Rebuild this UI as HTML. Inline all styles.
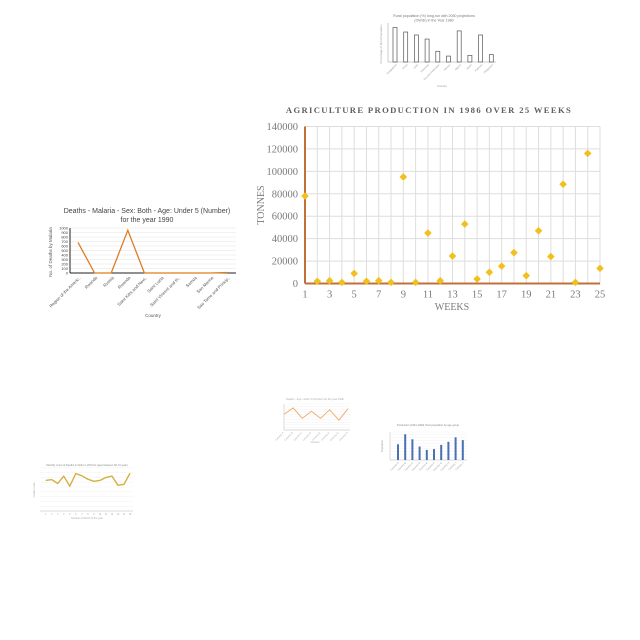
<!DOCTYPE html>
<html><head><meta charset="utf-8"><style>
body{margin:0;background:#fff;}
svg{display:block;}
text{font-family:"Liberation Sans",sans-serif;}
.serif{font-family:"Liberation Serif",serif;}
</style></head><body>
<svg id="s" width="640" height="640" viewBox="0 0 640 640">
<g id="main"></g>
<g id="malaria"></g>
<g id="rural"></g>
<g id="orange"></g>
<g id="blue"></g>
<g id="gold"></g>
</svg>
<script>
// Main chart data
const weeks = [1,2,3,4,5,6,7,8,9,10,11,12,13,14,15,16,17,18,19,20,21,22,23,24,25];
const tonnes = [78000,2000,2500,1000,9000,2000,2500,1000,95000,1000,45000,2500,24500,53000,4000,10000,15500,27500,7000,47000,24000,88500,1000,116000,13500];
const yTicks = [0,20000,40000,60000,80000,100000,120000,140000];
const xTickLabels = [1,3,5,7,9,11,13,15,17,19,21,23,25];
// Malaria chart data
const malariaCountries = ["Region of the Americas","Rwanda","Russia","Rwanda","Saint Kitts and Nevis","Saint Lucia","Saint Vincent and the ..","Samoa","San Marino","Sao Tome and Principe"];
const malariaDeaths = [680,0,0,950,0,0,0,0,0,10];
const malariaTicks = [0,100,200,300,400,500,600,700,800,900,1000];
// Rural population chart data
const ruralCountries = ["Bangladesh","China","India","Indonesia","Russian Federation","Mexico","Nigeria","Japan","Pakistan","Philippines"];
const ruralValues = [93,81,73,62,29,16,84,18,73,20];
// Small orange line data
const orangeCats = ["A","B","C","D","E","F","G","H"];
const orangeValues = [60,85,45,72,45,78,38,82];
// Small blue bar data
const blueCats = ["A","B","C","D","E","F","G","H","I","J"];
const blueValues = [56,92,74,48,36,39,54,65,81,71];
// Gold line data
const goldCats = ["1","2","3","4","5","6","7","8","9","10","11","12","13","14","15"];
const goldValues = [71,73,64,81,58,87,82,74,69,71,78,81,60,62,88];

const NS="http://www.w3.org/2000/svg";
function mk(parent,tag,attrs,txt){const e=document.createElementNS(NS,tag);for(const k in attrs)e.setAttribute(k,attrs[k]);if(txt!==undefined)e.textContent=txt;parent.appendChild(e);return e;}

// ===== Main chart =====
(function(){
const g=document.getElementById('main');
const x0=305,x1=600,y0=283.5,y1=126.5;
const sx=w=>x0+(w-1)/(24)*(x1-x0);
const sy=v=>y0-v/140000*(y0-y1);
for(const t of yTicks){
 const l=mk(g,'line',{x1:x0,x2:x1,y1:sy(t),y2:sy(t),stroke:'#dedede','stroke-width':1});
 
 
 const tx=mk(g,'text',{x:x0-7,y:sy(t)+3.5,'text-anchor':'end','font-size':10.5,fill:'#7a7a7a',class:'serif'},t);
 
 
}
for(const w of weeks){
 const l=mk(g,'line',{x1:sx(w),x2:sx(w),y1:y1,y2:y0,stroke:'#dedede','stroke-width':1});
 
 
}
for(const w of xTickLabels){
 const tx=mk(g,'text',{x:sx(w),y:y0+14,'text-anchor':'middle','font-size':10.5,fill:'#7a7a7a',class:'serif'},w);
 
 
}
let a=mk(g,'line',{x1:x0,x2:x1,y1:y0,y2:y0,stroke:'#c0703a','stroke-width':2});

a=mk(g,'line',{x1:x0,x2:x0,y1:y1,y2:y0,stroke:'#c0703a','stroke-width':2});

weeks.forEach((w,i)=>{
 const cx=sx(w),cy=sy(tonnes[i]),r=3.8;
 const p=mk(g,'polygon',{points:`${cx},${cy-r} ${cx+r},${cy} ${cx},${cy+r} ${cx-r},${cy}`,fill:'#f2c01e'});
 
 
});
let t=mk(g,'text',{x:429,y:113,'text-anchor':'middle','font-size':8.6,'font-weight':'bold','letter-spacing':'1.35',fill:'#606060',class:'serif'},'AGRICULTURE PRODUCTION IN 1986 OVER 25 WEEKS');

t=mk(g,'text',{x:452,y:310,'text-anchor':'middle','font-size':10,fill:'#7a7a7a',class:'serif'},'WEEKS');

t=mk(g,'text',{x:264,y:205,'text-anchor':'middle','font-size':10,fill:'#7a7a7a',class:'serif',transform:'rotate(-90 264 205)'},'TONNES');

})();

// ===== Malaria chart =====
(function(){
const g=document.getElementById('malaria');
const x0=70,x1=236,y0=273,y1=228;
const sx=i=>78+i*16.6;
const sy=v=>y0-v/1000*(y0-y1);
for(const t of malariaTicks){
 const l=mk(g,'line',{x1:x0,x2:x1,y1:sy(t),y2:sy(t),stroke:'#e3e3e3','stroke-width':0.6});
 
 const tx=mk(g,'text',{x:x0-2,y:sy(t)+1.5,'text-anchor':'end','font-size':4,fill:'#444'},t);
 
}
let a=mk(g,'line',{x1:x0,x2:x1,y1:y0,y2:y0,stroke:'#222','stroke-width':1});

a=mk(g,'line',{x1:x0,x2:x0,y1:y1,y2:y0,stroke:'#222','stroke-width':1});

const pl=mk(g,'polyline',{points:malariaDeaths.map((v,i)=>sx(i)+','+sy(v)).join(' '),fill:'none',stroke:'#e07b22','stroke-width':1.3});

malariaCountries.forEach((c,i)=>{
 const tx=mk(g,'text',{x:sx(i)+3,y:y0+5,'text-anchor':'end','font-size':4.3,fill:'#555',transform:`rotate(-45 ${sx(i)+3} ${y0+5})`},c.length>20?c.slice(0,20)+'..':c);
 
});
let t=mk(g,'text',{x:147,y:213,'text-anchor':'middle','font-size':7,fill:'#444'},'Deaths - Malaria - Sex: Both - Age: Under 5 (Number)');

t=mk(g,'text',{x:147,y:222,'text-anchor':'middle','font-size':7,fill:'#444'},'for the year 1990');

t=mk(g,'text',{x:153,y:317,'text-anchor':'middle','font-size':4.5,fill:'#555'},'Country');

t=mk(g,'text',{x:52,y:252,'text-anchor':'middle','font-size':4.5,fill:'#555',transform:'rotate(-90 52 252)'},'No. of Deaths by Malaria');

})();

// ===== Rural population =====
(function(){
const g=document.getElementById('rural');
const x0=388,x1=496,y0=62,y1=25;
const sy=v=>y0-v/100*(y0-y1);
const sx=i=>395+i*10.7;
let a=mk(g,'line',{x1:x0,x2:x0,y1:y1-2,y2:y0,stroke:'#999','stroke-width':0.5});

a=mk(g,'line',{x1:x0,x2:x1,y1:y0,y2:y0,stroke:'#999','stroke-width':0.5});

ruralValues.forEach((v,i)=>{
 const r=mk(g,'rect',{x:sx(i)-2,y:sy(v),width:4,height:y0-sy(v),fill:'#fff',stroke:'#555','stroke-width':0.7});
 
 
 const tx=mk(g,'text',{x:sx(i)+2,y:y0+3,'text-anchor':'end','font-size':2.5,fill:'#999',transform:`rotate(-45 ${sx(i)+2} ${y0+3})`},ruralCountries[i]);
 
});
let t=mk(g,'text',{x:434,y:17,'text-anchor':'middle','font-size':3.6,fill:'#777'},'Rural population (%) long-run with 2050 projections');

t=mk(g,'text',{x:434,y:21.5,'text-anchor':'middle','font-size':3.6,fill:'#777'},'(OWID) in the Year 1980');

t=mk(g,'text',{x:442,y:87,'text-anchor':'middle','font-size':2.8,fill:'#999'},'Country');

t=mk(g,'text',{x:382,y:44,'text-anchor':'middle','font-size':2.8,fill:'#999',transform:'rotate(-90 382 44)'},'Percentage of Rural Population');

})();

// ===== Small orange line =====
(function(){
const g=document.getElementById('orange');
const x0=284,x1=350,y0=430,y1=404;
const sx=i=>x0+i*(x1-x0-2)/(orangeCats.length-1);
const sy=v=>y0-v/100*(y0-y1);
for(let k=0;k<=10;k++){const l=mk(g,'line',{x1:x0,x2:x1,y1:y0-k*2.6,y2:y0-k*2.6,stroke:'#eee','stroke-width':0.4});
 }
let a=mk(g,'line',{x1:x0,x2:x0,y1:y1,y2:y0,stroke:'#bbb','stroke-width':0.5});

a=mk(g,'line',{x1:x0,x2:x1,y1:y0,y2:y0,stroke:'#bbb','stroke-width':0.5});

const pl=mk(g,'polyline',{points:orangeValues.map((v,i)=>sx(i)+','+sy(v)).join(' '),fill:'none',stroke:'#f0a860','stroke-width':0.9});

orangeCats.forEach((c,i)=>{const tx=mk(g,'text',{x:sx(i),y:y0+3,'text-anchor':'end','font-size':2.5,fill:'#aaa',transform:`rotate(-45 ${sx(i)} ${y0+3})`},'Country '+c);
 });
let t=mk(g,'text',{x:315,y:400,'text-anchor':'middle','font-size':2.6,fill:'#aaa'},'Deaths - Age: Under 5 (Number) for the year 1990');

t=mk(g,'text',{x:315,y:443,'text-anchor':'middle','font-size':2.6,fill:'#aaa'},'Country');

})();

// ===== Small blue bar =====
(function(){
const g=document.getElementById('blue');
const x0=390,x1=467,y0=460,y1=432;
const sx=i=>398+i*7.2;
const sy=v=>y0-v/100*(y0-y1);
for(let k=0;k<=10;k++){const l=mk(g,'line',{x1:x0,x2:x1,y1:y0-k*2.8,y2:y0-k*2.8,stroke:'#eee','stroke-width':0.4});
 }
let a=mk(g,'line',{x1:x0,x2:x1,y1:y0,y2:y0,stroke:'#bbb','stroke-width':0.5});

a=mk(g,'line',{x1:x0,x2:x0,y1:y1,y2:y0,stroke:'#bbb','stroke-width':0.5});

blueValues.forEach((v,i)=>{
 const r=mk(g,'rect',{x:sx(i)-1,y:sy(v),width:2,height:y0-sy(v),fill:'#4a6fb5'});
 
 const tx=mk(g,'text',{x:sx(i)+1,y:y0+3,'text-anchor':'end','font-size':2.5,fill:'#999',transform:`rotate(-45 ${sx(i)+1} ${y0+3})`},'Country '+blueCats[i]);
 
});
let t=mk(g,'text',{x:428,y:426,'text-anchor':'middle','font-size':2.6,fill:'#888'},'Production (1961-1990) Total population by age group');

t=mk(g,'text',{x:383,y:446,'text-anchor':'middle','font-size':2.6,fill:'#999',transform:'rotate(-90 383 446)'},'Population');

})();

// ===== Gold line =====
(function(){
const g=document.getElementById('gold');
const x0=40,x1=133,y0=511,y1=468;
const sx=i=>45.7+i*(130-45.7)/(goldCats.length-1);
const sy=v=>y0-v/100*(y0-y1);
for(let k=0;k<=9;k++){const l=mk(g,'line',{x1:x0,x2:x1,y1:y0-k*4.8,y2:y0-k*4.8,stroke:'#eee','stroke-width':0.4});
 }
let a=mk(g,'line',{x1:x0,x2:x1,y1:y0,y2:y0,stroke:'#bbb','stroke-width':0.5});

const pl=mk(g,'polyline',{points:goldValues.map((v,i)=>sx(i)+','+sy(v)).join(' '),fill:'none',stroke:'#d4b040','stroke-width':1.4});

goldCats.forEach((c,i)=>{const tx=mk(g,'text',{x:sx(i),y:y0+4,'text-anchor':'middle','font-size':2.3,fill:'#aaa'},c);
 });
let t=mk(g,'text',{x:87,y:466,'text-anchor':'middle','font-size':2.6,fill:'#888'},'Monthly count of Deaths in Delhi in 2019 for ages between 60-74 years');

t=mk(g,'text',{x:87,y:519,'text-anchor':'middle','font-size':2.5,fill:'#aaa'},'Number of Month of the year');

t=mk(g,'text',{x:35,y:490,'text-anchor':'middle','font-size':2.5,fill:'#aaa',transform:'rotate(-90 35 490)'},'Deaths count');

})();
</script>
</body></html>
